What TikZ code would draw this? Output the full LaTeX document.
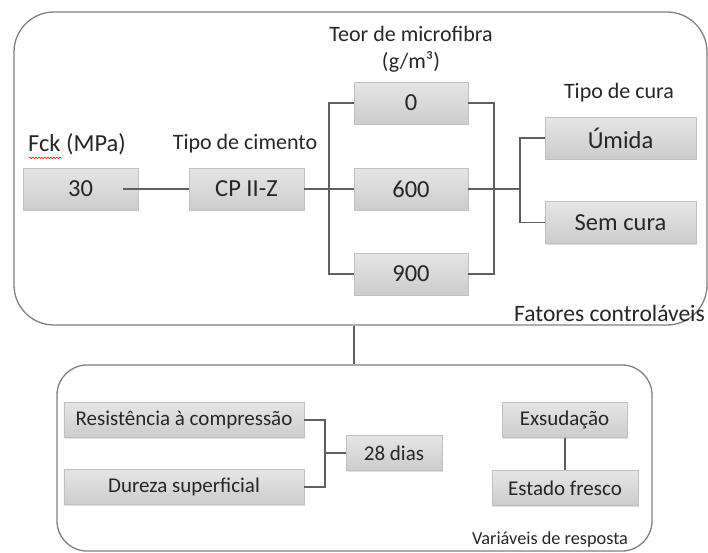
\documentclass[tikz,border=0pt]{standalone}
\usepackage{fontspec}
\setmainfont{Carlito}
\usepackage{tikz}
\usetikzlibrary{positioning, calc, shadows, decorations.pathmorphing}

\definecolor{linha}{HTML}{5F5F5F}
\definecolor{borda}{HTML}{808080}
\definecolor{texto}{HTML}{262626}

\tikzset{
  caixa/.style={draw=gray!50, top color=gray!20, bottom color=gray!40,
    drop shadow={shadow xshift=1pt, shadow yshift=-1.2pt, opacity=0.25, fill=gray},
    text=texto, inner sep=0pt, font=\fontsize{24.5}{28}\selectfont},
  caixinha/.style={caixa, font=\fontsize{21}{25}\selectfont, minimum height=35pt},
  rotulo/.style={text=texto, inner sep=0pt, font=\fontsize{22}{26}\selectfont},
  grupo/.style={draw=borda, line width=1.3pt, rounded corners=40pt, inner sep=0pt},
  liga/.style={draw=linha, line width=1.1pt}
}

\begin{document}
\begin{tikzpicture}[x=1pt, y=-1pt]
                \useasboundingbox (0,0) rectangle (708,552);

                % grupos
                \node[grupo, minimum width=693pt, minimum height=313pt] (controle) at (360.5,168.5) {};
                \node[grupo, rounded corners=30pt, minimum width=595pt, minimum height=186pt] (resposta) at (354.5,458) {};
                \coordinate (meio) at (354,0);
                \draw[liga] (controle.south -| meio) -- (resposta.north -| meio);

                % fatores controlaveis
                \node[rotulo, font=\fontsize{24.5}{28}\selectfont] (fck) at (77,144) {Fck (MPa)};
                \draw[red, line width=0.6pt, decorate, decoration={snake, amplitude=0.7pt, segment length=3pt}]
                  ($(fck.south west)+(1,3)$) -- ($(fck.south west)+(34,3)$);
                \node[rotulo] (cimento) at (245,144) {Tipo de cimento};
                \node[rotulo] (teor) at (411,34) {Teor de microfibra};
                \node[rotulo] (unid) at (411,62) {(g/m³)};
                \node[rotulo] (cura) at (619,93) {Tipo de cura};
                \node[rotulo, anchor=east, font=\fontsize{23.5}{27}\selectfont] (fatores) at (705,313) {Fatores controláveis};

                \node[caixa, minimum width=115pt, minimum height=42pt] (n30) at (80.5,189) {30};
                \node[caixa, minimum width=115pt, minimum height=42pt] (cp) at (246.5,189) {CP II-Z};
                \node[caixa, minimum width=114pt, minimum height=42pt] (f0) at (411,103) {0};
                \node[caixa, minimum width=114pt, minimum height=42pt] (f600) at (411,189) {600};
                \node[caixa, minimum width=114pt, minimum height=42pt] (f900) at (411,274) {900};
                \node[caixa, minimum width=151pt, minimum height=42pt] (umida) at (620.5,138) {Úmida};
                \node[caixa, minimum width=151pt, minimum height=42pt] (semcura) at (620.5,222.5) {Sem cura};

                \coordinate (b1) at (329,0);
                \coordinate (b2) at (494,0);
                \coordinate (b3) at (520,0);
                \draw[liga] ($(n30.east)+(-15,0)$) -- (cp.west);
                \draw[liga] (cp.east) -- (f600.west);
                \draw[liga] (f0.west) -- (f0.west -| b1) -- (f900.west -| b1) -- (f900.west);
                \draw[liga] (f0.east) -- (f0.east -| b2) -- (f900.east -| b2) -- (f900.east);
                \draw[liga] (f600.east) -- (f600.east -| b3);
                \draw[liga] (umida.west) -- (umida.west -| b3) -- (semcura.west -| b3) -- (semcura.west);

                % variaveis de resposta
                \node[caixinha, minimum width=240pt] (resist) at (184,420) {Resistência à compressão};
                \node[caixinha, minimum width=240pt] (dureza) at (184,487) {Dureza superficial};
                \node[caixinha, minimum width=96pt] (dias) at (394,453) {28 dias};
                \node[caixinha, minimum width=125pt] (exsud) at (564.5,420) {Exsudação};
                \node[caixinha, minimum width=146pt] (fresco) at (565,488) {Estado fresco};
                \node[rotulo, font=\fontsize{18.3}{22}\selectfont] (variaveis) at (550,540) {Variáveis de resposta};

                \coordinate (b4) at (325,0);
                \draw[liga] (resist.east) -- (resist.east -| b4) -- (dureza.east -| b4) -- (dureza.east);
                \draw[liga] (dias.west -| b4) -- (dias.west);
                \draw[liga] (exsud.south -| fresco.north) -- (fresco.north);
            \end{tikzpicture}
\end{document}
